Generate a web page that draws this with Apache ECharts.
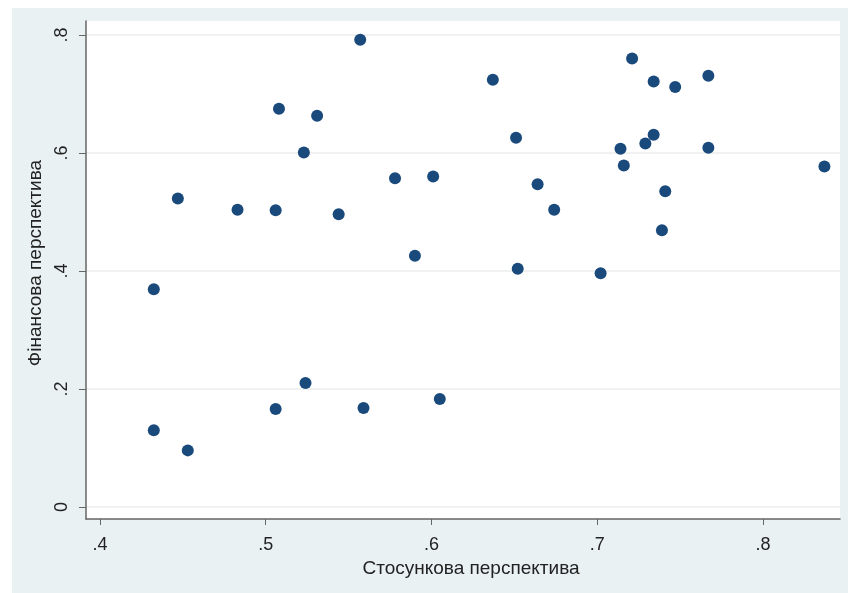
<!DOCTYPE html>
<html>
<head>
<meta charset="utf-8">
<script src="https://cdn.jsdelivr.net/npm/echarts@6/dist/echarts.min.js"></script>
<style>
html,body{margin:0;padding:0;background:#ffffff;}
#chart{width:848px;height:593px;}
</style>
</head>
<body>
<div id="chart"></div>
<script>
var xTitle = 'Стосункова перспектива';
var yTitle = 'Фінансова перспектива';
var xValues = [0.4325,0.4325,0.447,0.453,0.483,0.506,0.506,0.508,0.523,0.524,0.531,0.544,0.557,0.559,0.578,0.590,0.601,0.605,0.637,0.651,0.652,0.664,0.674,0.702,0.721,0.714,0.716,0.729,0.734,0.734,0.747,0.741,0.739,0.767,0.767,0.837];
var yValues = [0.369,0.130,0.523,0.096,0.504,0.503,0.166,0.675,0.601,0.210,0.663,0.496,0.792,0.168,0.557,0.426,0.560,0.183,0.724,0.626,0.404,0.547,0.504,0.396,0.760,0.607,0.579,0.616,0.721,0.631,0.712,0.535,0.469,0.731,0.609,0.577];
var xTicks = [0.4,0.5,0.6,0.7,0.8];
var yTicks = [0,0.2,0.4,0.6,0.8];

var pts = xValues.map(function(v,i){return [v,yValues[i]];});
function fmt(v){
  var r = Math.round(v*10)/10;
  if (Math.abs(r) < 1e-9) return '0';
  return String(r).replace(/^0\./,'.');
}
var chart = echarts.init(document.getElementById('chart'), null, {renderer:'canvas'});
chart.setOption({
  animation:false,
  backgroundColor:'#ffffff',
  textStyle:{fontFamily:'Liberation Sans, Arial, sans-serif'},
  graphic:[{type:'rect', z:-10, silent:true, shape:{x:12,y:8,width:836,height:585}, style:{fill:'#eaf1f3'}}],
  grid:{left:86,right:8,top:21,bottom:74,show:true,backgroundColor:'#ffffff',borderWidth:0},
  xAxis:{
    type:'value', min:0.3916, max:0.8464,
    name:xTitle, nameLocation:'middle', nameGap:31,
    nameTextStyle:{fontSize:19,color:'#222222',padding:[0,0,0,16]},
    axisLine:{show:true,onZero:false,lineStyle:{color:'#666666',width:1.5}},
    axisTick:{show:true,length:6,lineStyle:{color:'#666666'},customValues:xTicks},
    axisLabel:{fontSize:18,color:'#222222',margin:17,formatter:fmt,customValues:xTicks},
    splitLine:{show:false}
  },
  yAxis:{
    type:'value', min:-0.0203, max:0.8237,
    name:yTitle, nameLocation:'middle', nameGap:37,
    nameTextStyle:{fontSize:19,color:'#222222',padding:[0,0,0,14]},
    axisLine:{show:true,onZero:false,lineStyle:{color:'#666666',width:1.5}},
    axisTick:{show:true,length:7,lineStyle:{color:'#666666'},customValues:yTicks},
    axisLabel:{fontSize:18,color:'#222222',margin:15,rotate:90,formatter:fmt,customValues:yTicks},
    splitLine:{show:true,lineStyle:{color:'#ebeeee',width:1.5}}
  },
  series:[{
    type:'scatter',
    data:pts,
    symbol:'circle',
    symbolSize:12,
    itemStyle:{color:'#1a4a7c',opacity:1}
  }]
});
</script>
</body>
</html>
